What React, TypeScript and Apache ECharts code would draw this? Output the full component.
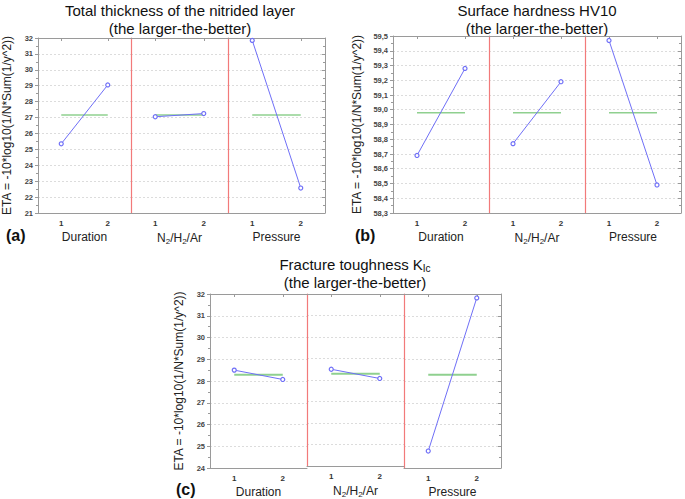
import React, { useEffect, useRef } from "react";
import * as echarts from "echarts";

const factorNames = ["Duration", "{a|N}{s|2}{a|/H}{s|2}{a|/Ar}", "Pressure"];
const levels = ["1", "2"];

// Panel (a) Total thickness of the nitrided layer
const thicknessEta = [
  [25.35, 29.05],
  [27.05, 27.25],
  [31.85, 22.57],
];
const thicknessMean = [27.16];
// Panel (b) Surface hardness HV10
const hardnessEta = [
  [58.69, 59.28],
  [58.77, 59.19],
  [59.47, 58.49],
];
const hardnessMean = [58.98];
// Panel (c) Fracture toughness KIc
const toughnessEta = [
  [28.5, 28.07],
  [28.5, 28.07],
  [24.78, 31.82],
];
const toughnessMean = [28.29];

const yTicksA = { min: 21, max: 32, interval: 1 };
const yTicksB = { min: 58.3, max: 59.5, interval: 0.1 };
const yTicksC = { min: 24, max: 32, interval: 1 };

const FONT = "Liberation Sans, Arial, sans-serif";
const BLUE = "#6f6ff7";
const GREEN = "#8fd08f";
const RED = "#f27a7a";
const GRAY = "#9a9a9a";

const panels = [
  { left: 34, top: 38, bottom: 213, w: 97, eta: thicknessEta, mean: thicknessMean, y: yTicksA, dec: 0, greenW: 1.5 },
  { left: 393, top: 36, bottom: 213, w: 96, eta: hardnessEta, mean: hardnessMean, y: yTicksB, dec: 1, greenW: 1.5 },
  { left: 210, top: 294, bottom: 468, w: 97, eta: toughnessEta, mean: toughnessMean, y: yTicksC, dec: 0, greenW: 2 },
];

function buildOption() {
  const grid: any[] = [];
  const xAxis: any[] = [];
  const yAxis: any[] = [];
  const series: any[] = [];
  panels.forEach((p, pi) => {
    for (let s = 0; s < 3; s++) {
      const g = pi * 3 + s;
      grid.push({ left: p.left + s * p.w, top: p.top, width: p.w, height: p.bottom - p.top });
      xAxis.push({
        type: "category",
        gridIndex: g,
        data: levels,
        boundaryGap: true,
        position: "bottom",
        axisLine: { show: true, lineStyle: { color: GRAY, width: 1 } },
        axisTick: { show: false },
        axisLabel: { color: "#333", fontSize: 8, fontFamily: FONT, fontWeight: "bold", margin: 6 },
        name: factorNames[s],
        nameLocation: "middle",
        nameGap: 18,
        nameTextStyle: {
          color: "#222",
          fontSize: 12,
          fontFamily: FONT,
          rich: {
            a: { fontSize: 12, fontFamily: FONT, color: "#222" },
            s: { fontSize: 8, fontFamily: FONT, color: "#222", verticalAlign: "bottom", padding: [6, 0, 0, 0] },
          },
        },
      });
      xAxis.push({
        type: "category",
        gridIndex: g,
        data: levels,
        boundaryGap: true,
        position: "top",
        axisLine: { show: true, lineStyle: { color: GRAY, width: 1 } },
        axisTick: { show: true, inside: true, alignWithLabel: true, length: 3, lineStyle: { color: GRAY } },
        axisLabel: { show: false },
      });
      const dec = p.dec;
      yAxis.push({
        type: "value",
        gridIndex: g,
        min: p.y.min,
        max: p.y.max,
        interval: p.y.interval,
        position: "left",
        axisLine: { show: true, lineStyle: { color: s === 0 ? GRAY : RED, width: s === 0 ? 1 : 1.2 } },
        axisTick: { show: s === 0, length: 3, lineStyle: { color: GRAY } },
        minorTick: { show: s === 0, splitNumber: 2, length: 2, lineStyle: { color: GRAY } },
        axisLabel: {
          show: s === 0,
          fontSize: 7.5,
          fontWeight: "bold",
          color: "#444",
          fontFamily: FONT,
          margin: 5,
          formatter: (v: number) => v.toFixed(dec).replace(".", ","),
        },
        splitLine: { show: true, lineStyle: { color: "#dcdcdc", type: [2, 2], width: 1 } },
        name: s === 0 ? "ETA = -10*log10(1/N*Sum(1/y^2))" : "",
        nameLocation: "middle",
        nameGap: pi === 1 ? 30 : 25,
        nameTextStyle: { fontSize: 12, fontFamily: FONT, color: "#222" },
      });
      yAxis.push({
        type: "value",
        gridIndex: g,
        min: p.y.min,
        max: p.y.max,
        interval: p.y.interval,
        position: "right",
        show: s === 2,
        axisLine: { show: true, lineStyle: { color: GRAY, width: 1 } },
        axisTick: { show: true, inside: true, length: 3, lineStyle: { color: GRAY } },
        minorTick: { show: true, splitNumber: 2, length: 2, lineStyle: { color: GRAY } },
        axisLabel: { show: false },
        splitLine: { show: false },
      });
      series.push({
        type: "line",
        xAxisIndex: g * 2,
        yAxisIndex: g * 2,
        data: [p.mean[0], p.mean[0]],
        symbol: "none",
        lineStyle: { color: GREEN, width: p.greenW },
        z: 2,
      });
      series.push({
        type: "line",
        xAxisIndex: g * 2,
        yAxisIndex: g * 2,
        data: p.eta[s],
        symbol: "circle",
        symbolSize: 4,
        itemStyle: { color: "#fff", borderColor: BLUE, borderWidth: 1.2 },
        lineStyle: { color: BLUE, width: 1 },
        z: 3,
      });
    }
  });

  const titleStyle = (text: string, x: number, y: number) => ({
    type: "text",
    x,
    y,
    style: {
      text,
      textAlign: "center",
      textVerticalAlign: "middle",
      fontSize: 15,
      fontFamily: FONT,
      fill: "#111",
      rich: {
        t: { fontSize: 15, fontFamily: FONT, fill: "#111" },
        s: { fontSize: 10, fontFamily: FONT, fill: "#111", padding: [8, 0, 0, 0] },
      },
    },
  });
  const label = (text: string, x: number, y: number) => ({
    type: "text",
    x,
    y,
    style: { text, fontSize: 16, fontWeight: "bold", fontFamily: FONT, fill: "#111", textVerticalAlign: "middle" },
  });

  return {
    animation: false,
    backgroundColor: "#fff",
    grid,
    xAxis,
    yAxis,
    series,
    graphic: [
      titleStyle("Total thickness of the nitrided layer", 180, 10),
      titleStyle("(the larger-the-better)", 180, 28),
      titleStyle("Surface hardness HV10", 537, 10),
      titleStyle("(the larger-the-better)", 537, 28),
      titleStyle("{t|Fracture toughness K}{s|Ic}", 355, 264),
      titleStyle("(the larger-the-better)", 355, 282),
      label("(a)", 6, 235),
      label("(b)", 355, 235),
      label("(c)", 176, 489),
    ],
  };
}

export default function App() {
  const ref = useRef<HTMLDivElement>(null);
  useEffect(() => {
    document.body.style.margin = "0";
    if (!ref.current) return;
    const chart = echarts.init(ref.current, undefined, { renderer: "svg" });
    chart.setOption(buildOption() as any);
    return () => chart.dispose();
  }, []);
  return <div ref={ref} style={{ width: 685, height: 499 }} />;
}
